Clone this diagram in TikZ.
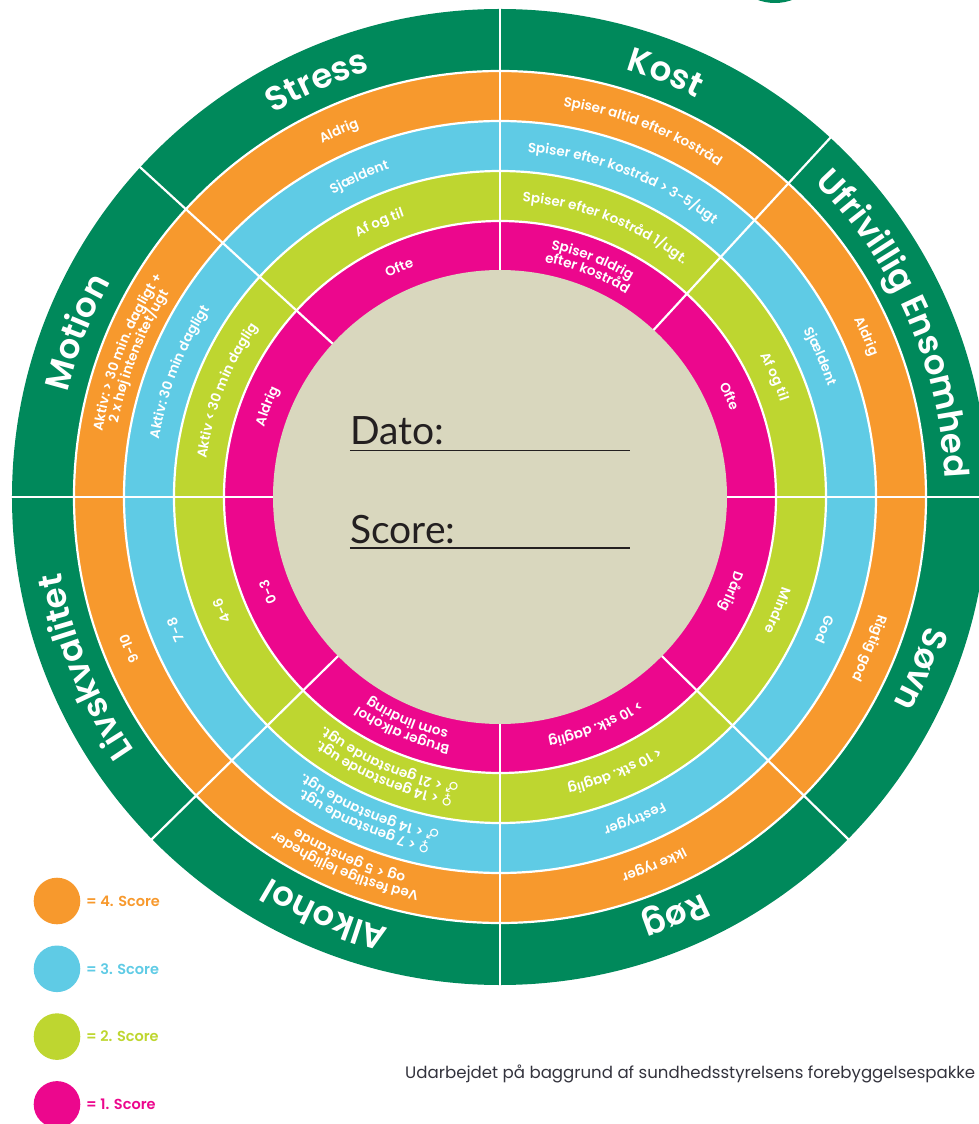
\documentclass[tikz,border=0pt]{standalone}
\usepackage{fontspec}
\setmainfont{Lato}
\newfontfamily\popfont{Poppins}
\newfontfamily\popsemi{Poppins SemiBold}
\newfontfamily\symfont{DejaVu Sans}
\usetikzlibrary{decorations.text,positioning}

\definecolor{skgreen}{HTML}{00895B}
\definecolor{skorange}{HTML}{F7992D}
\definecolor{skblue}{HTML}{5FCBE5}
\definecolor{sklime}{HTML}{BED630}
\definecolor{skpink}{HTML}{EC078D}
\definecolor{skbeige}{HTML}{D9D7BE}
\definecolor{skdark}{HTML}{231F20}
\definecolor{footgray}{HTML}{33333D}

\newcommand{\catfont}{\color{white}\popsemi\fontsize{34}{40}\selectfont}
\newcommand{\ringfont}{\color{white}\popsemi\fontsize{13.5}{15}\selectfont}
\newcommand{\symb}{\color{white}\symfont\bfseries\fontsize{14.5}{15}\selectfont}
% text on an arc, clockwise, centred: radius, from, to, text
\newcommand{\arctext}[4]{\path[decorate,decoration={text along path,text align=center,text={#4}}] (#2:#1) arc[start angle=#2,end angle=#3,radius=#1];}

\tikzset{
  sep/.style={white,line width=2.2pt},
  legdot/.style={circle,minimum size=46.6pt,inner sep=0pt},
  legtext/.style={font=\popsemi\fontsize{14.5}{16}\selectfont,inner sep=0pt},
  fieldtext/.style={font=\fontsize{39}{44}\selectfont,text=skdark,inner sep=0pt,anchor=base west},
  uline/.style={skdark,line width=1.4pt}
}

\begin{document}
\begin{tikzpicture}[x=1pt,y=1pt]
        \useasboundingbox (-500,-627) rectangle (479,497);
        %rings
        \fill[skgreen] (0,0) circle (488);
        \fill[skorange] (0,0) circle (426);
        \fill[skblue] (0,0) circle (376);
        \fill[sklime] (0,0) circle (326);
        \fill[skpink] (0,0) circle (276);
        \fill[skbeige] (0,0) circle (227);
        %white lines
        \draw[sep] (0,0) circle (426);
        \draw[sep] (0,0) circle (376);
        \draw[sep] (0,0) circle (326);
        \draw[sep] (0,0) circle (276);
        \draw[sep] (0:227) -- (0:490);
        \draw[sep] (47.4:227) -- (47.4:490);
        \draw[sep] (90:227) -- (90:490);
        \draw[sep] (137.5:227) -- (137.5:490);
        \draw[sep] (180:227) -- (180:490);
        \draw[sep] (224.5:227) -- (224.5:490);
        \draw[sep] (270:227) -- (270:490);
        \draw[sep] (315.5:227) -- (315.5:490);
        %logo edge
        \fill[skgreen] (275,544) circle (50);
        %categories
        \arctext{445}{137.5}{90}{|\catfont|Stress}
        \arctext{445}{90}{47.4}{|\catfont|Kost}
        \arctext{445}{47.4}{0}{|\catfont|Ufrivillig Ensomhed}
        \arctext{445}{0}{-44.5}{|\catfont|Søvn}
        \arctext{445}{-44.5}{-90}{|\catfont|Røg}
        \arctext{445}{270}{224.5}{|\catfont|Alkohol}
        \arctext{445}{224.5}{180}{|\catfont|Livskvalitet}
        \arctext{445}{180}{137.5}{|\catfont|Motion}
        %stress
        \arctext{396}{137.5}{90}{|\ringfont|Aldrig}
        \arctext{346}{137.5}{90}{|\ringfont|Sjældent}
        \arctext{296}{137.5}{90}{|\ringfont|Af og til}
        \arctext{246}{137.5}{90}{|\ringfont|Ofte}
        %kost
        \arctext{396}{90}{47.4}{|\ringfont|Spiser altid efter kostråd}
        \arctext{346}{90}{47.4}{|\ringfont|Spiser efter kostråd > 3-5/ugt}
        \arctext{296}{90}{47.4}{|\ringfont|Spiser efter kostråd 1/ugt.}
        \arctext{253}{90}{47.4}{|\ringfont|Spiser aldrig}
        \arctext{239}{90}{47.4}{|\ringfont|efter kostråd}
        %ensomhed
        \arctext{396}{47.4}{0}{|\ringfont|Aldrig}
        \arctext{346}{47.4}{0}{|\ringfont|Sjældent}
        \arctext{296}{47.4}{0}{|\ringfont|Af og til}
        \arctext{246}{47.4}{0}{|\ringfont|Ofte}
        %soevn
        \arctext{396}{0}{-44.5}{|\ringfont|Rigtig god}
        \arctext{346}{0}{-44.5}{|\ringfont|God}
        \arctext{296}{0}{-44.5}{|\ringfont|Mindre}
        \arctext{246}{0}{-44.5}{|\ringfont|Dårlig}
        %roeg
        \arctext{396}{-44.5}{-90}{|\ringfont|Ikke ryger}
        \arctext{346}{-44.5}{-90}{|\ringfont|Festryger}
        \arctext{296}{-44.5}{-90}{|\ringfont|< 10 stk. daglig}
        \arctext{246}{-44.5}{-90}{|\ringfont|> 10 stk. daglig}
        %alkohol
        \arctext{403}{270}{224.5}{|\ringfont|Ved festlige lejligheder}
        \arctext{389}{270}{224.5}{|\ringfont|og < 5 genstande}
        \arctext{353}{270}{224.5}{|\symb|♀|\ringfont| < 7 genstande ugt.}
        \arctext{339}{270}{224.5}{|\symb|♂|\ringfont| < 14 genstande ugt.}
        \arctext{303}{270}{224.5}{|\symb|♀|\ringfont| < 14 genstande ugt.}
        \arctext{289}{270}{224.5}{|\symb|♂|\ringfont| < 21 genstande ugt.}
        \arctext{253}{270}{224.5}{|\ringfont|Bruger alkohol}
        \arctext{239}{270}{224.5}{|\ringfont|som lindring}
        %livskvalitet
        \arctext{396}{224.5}{180}{|\ringfont|9-10}
        \arctext{346}{224.5}{180}{|\ringfont|7-8}
        \arctext{296}{224.5}{180}{|\ringfont|4-6}
        \arctext{246}{224.5}{180}{|\ringfont|0-3}
        %motion
        \arctext{403}{180}{137.5}{|\ringfont|Aktiv: > 30 min. dagligt +}
        \arctext{389}{180}{137.5}{|\ringfont|2 x høj intensitet/ugt}
        \arctext{346}{180}{137.5}{|\ringfont|Aktiv: 30 min dagligt}
        \arctext{296}{180}{137.5}{|\ringfont|Aktiv < 30 min daglig}
        \arctext{246}{180}{137.5}{|\ringfont|Aldrig}
        %centre
        \node[fieldtext] (dato) at (-150,52) {Dato:};
        \draw[uline] ([yshift=-5.5pt]dato.base west) -- ++(280,0);
        \node[fieldtext] (score) at (-150,-46) {Score:};
        \draw[uline] ([yshift=-5pt]score.base west) -- ++(280,0);
        %legend
        \node[legdot,fill=skorange] (leg4) at (-443,-404) {};
        \node[legdot,fill=skblue,below=20.8pt of leg4] (leg3) {};
        \node[legdot,fill=sklime,below=20.8pt of leg3] (leg2) {};
        \node[legdot,fill=skpink,below=20.8pt of leg2] (leg1) {};
        \node[legtext,text=skorange,right=5.5pt of leg4] (leg4t) {= 4. Score};
        \node[legtext,text=skblue,right=5.5pt of leg3] (leg3t) {= 3. Score};
        \node[legtext,text=sklime,right=5.5pt of leg2] (leg2t) {= 2. Score};
        \node[legtext,text=skpink,right=5.5pt of leg1] (leg1t) {= 1. Score};
        %source
        \node[anchor=base west,inner sep=0pt,font=\popfont\fontsize{16.6}{20}\selectfont,text=footgray] (kilde) at (-95,-581) {Udarbejdet på baggrund af sundhedsstyrelsens forebyggelsespakke};
\end{tikzpicture}
\end{document}
